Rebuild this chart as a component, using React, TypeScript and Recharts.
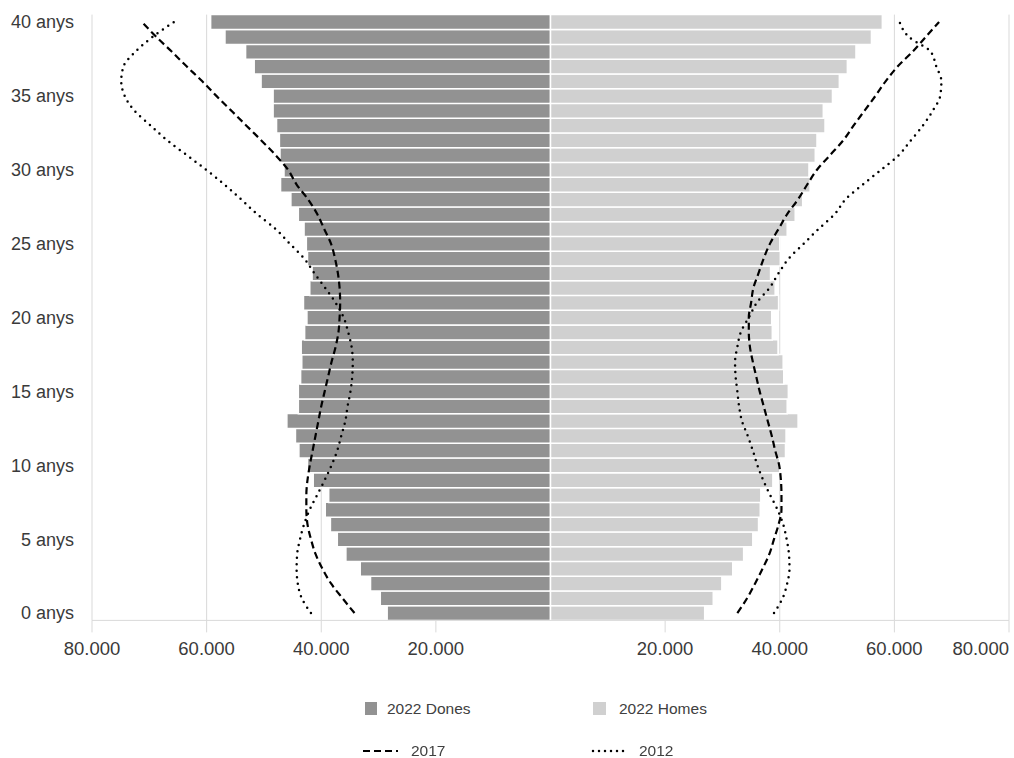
import {
  Bar,
  CartesianGrid,
  ComposedChart,
  Legend,
  Line,
  XAxis,
  YAxis,
} from 'recharts';

// edats de 0 a 40 anys
const edats = [
  0, 1, 2, 3, 4, 5, 6, 7, 8, 9, 10, 11, 12, 13, 14, 15, 16, 17, 18, 19, 20,
  21, 22, 23, 24, 25, 26, 27, 28, 29, 30, 31, 32, 33, 34, 35, 36, 37, 38, 39, 40,
];

const dones2022 = [
  28500, 29700, 31400, 33200, 35700, 37200, 38400, 39300, 38700, 41400, 42400,
  43900, 44500, 46000, 44000, 44000, 43600, 43400, 43500, 42900, 42500, 43100,
  42000, 41600, 42400, 42600, 43000, 44000, 45300, 47100, 46500, 47200, 47300,
  47800, 48400, 48400, 50500, 51700, 53200, 56800, 59300,
];

const homes2022 = [
  26900, 28400, 29900, 31800, 33700, 35300, 36300, 36600, 36700, 38800, 40000,
  41000, 41100, 43200, 41300, 41500, 40700, 40600, 39700, 38700, 38600, 39800,
  39200, 38400, 40100, 40000, 41300, 42700, 44000, 45300, 45100, 46200, 46500,
  47900, 47600, 49200, 50400, 51800, 53300, 56000, 57900,
];

const dones2017 = [
  34200, 36300, 38300, 39800, 41000, 41800, 42400, 42600, 42600, 42400, 42000,
  41500, 41000, 40500, 40000, 39400, 38800, 38200, 37500, 37000, 36800, 36700,
  36800, 37100, 37600, 38300, 39500, 40700, 42300, 44300, 45800, 48000, 50500,
  53100, 55700, 58300, 60800, 63500, 66100, 68800, 71300,
];

const homes2017 = [
  32600, 34300, 35700, 37000, 38200, 39000, 39800, 40300, 40300, 40200, 39900,
  39200, 38600, 37900, 37200, 36500, 35900, 35300, 34800, 34600, 34600, 35000,
  35400, 36300, 37200, 38300, 39800, 41300, 43200, 44800, 46500, 48800, 51100,
  52900, 54800, 56700, 58500, 60600, 63200, 65500, 67800,
];

const dones2012 = [
  41800, 43400, 44100, 44300, 44200, 43700, 43000, 42000, 40700, 39400, 38200,
  37200, 36500, 35800, 35400, 34900, 34600, 34500, 34700, 35300, 36100, 37500,
  39300, 41200, 43000, 45500, 48000, 51200, 54000, 56900, 60100, 63500, 66900,
  69800, 72600, 74300, 74900, 74500, 72400, 69400, 65700,
];

const homes2012 = [
  39000, 40500, 41300, 41700, 41600, 41200, 40600, 39600, 38300, 37100, 36100,
  35300, 34400, 33400, 32900, 32600, 32300, 32200, 32600, 33200, 34600, 36000,
  38200, 39800, 41600, 44200, 46800, 49600, 51500, 54500, 57700, 60800, 62900,
  65000, 66700, 68000, 68200, 67300, 66300, 62500, 60900,
];

const ticksX = [-80000, -60000, -40000, -20000, 20000, 40000, 60000, 80000];

const font = '"Liberation Sans", Arial, Helvetica, sans-serif';

// les dones van cap a l'esquerra (valors negatius)
const dades = edats.map((edat, i) => ({
  edat,
  dones: -dones2022[i],
  homes: homes2022[i],
  dones2017: -dones2017[i],
  homes2017: homes2017[i],
  dones2012: -dones2012[i],
  homes2012: homes2012[i],
}));

const formatMiles = (v: number) =>
  String(Math.abs(v)).replace(/\B(?=(\d{3})+(?!\d))/g, '.');

// l'ultima etiqueta queda alineada a la dreta, com a l'Excel
const TickX = ({ x, y, payload }: any) => {
  const ultim = payload.value === ticksX[ticksX.length - 1];
  return (
    <text
      x={x}
      y={y}
      dy="0.71em"
      textAnchor={ultim ? 'end' : 'middle'}
      fill="#3a3a3a"
      fontSize={18.5}
      fontFamily={font}>
      {formatMiles(payload.value)}
    </text>
  );
};

const Llegenda = () => (
  <div
    style={{
      position: 'relative',
      width: 1014,
      height: 60,
      fontFamily: font,
      fontSize: 15.5,
      lineHeight: '14px',
      color: '#404040',
    }}>
    <div style={{ position: 'absolute', left: 365, top: 4, width: 12, height: 13, background: '#929292' }} />
    <span style={{ position: 'absolute', left: 387, top: 4 }}>2022 Dones</span>
    <div style={{ position: 'absolute', left: 593, top: 4, width: 13, height: 13, background: '#d0d0d0' }} />
    <span style={{ position: 'absolute', left: 619, top: 4 }}>2022 Homes</span>
    <svg style={{ position: 'absolute', left: 362, top: 49 }} width={40} height={8}>
      <line x1={1} y1={4} x2={36} y2={4} stroke="#000" strokeWidth={2.2} strokeDasharray="7 4" />
    </svg>
    <span style={{ position: 'absolute', left: 411, top: 46 }}>2017</span>
    <svg style={{ position: 'absolute', left: 590, top: 49 }} width={40} height={8}>
      <line x1={3} y1={4} x2={34} y2={4} stroke="#000" strokeWidth={2.5} strokeLinecap="round" strokeDasharray="0 6" />
    </svg>
    <span style={{ position: 'absolute', left: 639, top: 46 }}>2012</span>
  </div>
);

export default function App() {
  return (
    <div style={{ position: 'fixed', left: 0, top: 0, width: 1014, height: 758, background: '#fff' }}>
      <ComposedChart
        width={1014}
        height={758}
        data={dades}
        layout="vertical"
        stackOffset="sign"
        barCategoryGap={0}
        margin={{ top: 14.6, right: 5, left: 0, bottom: 97.6 }}>
        <CartesianGrid horizontal={false} stroke="#d9d9d9" />
        <XAxis
          type="number"
          domain={[-80000, 80000]}
          ticks={ticksX}
          interval={0}
          height={40}
          tickSize={12}
          tickMargin={9}
          axisLine={{ stroke: '#d9d9d9' }}
          tickLine={{ stroke: '#d9d9d9' }}
          tick={<TickX />}
        />
        <YAxis
          type="category"
          dataKey="edat"
          reversed
          width={92}
          interval={4}
          axisLine={false}
          tickLine={false}
          tickMargin={12}
          tickFormatter={(v) => `${v} anys`}
          tick={{ fill: '#3a3a3a', fontSize: 18, fontFamily: font }}
        />
        <Bar dataKey="dones" stackId="p" fill="#929292" stroke="#fff" strokeWidth={1.5} isAnimationActive={false} />
        <Bar dataKey="homes" stackId="p" fill="#d0d0d0" stroke="#fff" strokeWidth={1.5} isAnimationActive={false} />
        <Line dataKey="dones2017" type="monotone" stroke="#000" strokeWidth={2.2} strokeDasharray="7 4" dot={false} activeDot={false} isAnimationActive={false} />
        <Line dataKey="homes2017" type="monotone" stroke="#000" strokeWidth={2.2} strokeDasharray="7 4" dot={false} activeDot={false} isAnimationActive={false} />
        <Line dataKey="dones2012" type="monotone" stroke="#000" strokeWidth={2.5} strokeLinecap="round" strokeDasharray="0 6.5" dot={false} activeDot={false} isAnimationActive={false} />
        <Line dataKey="homes2012" type="monotone" stroke="#000" strokeWidth={2.5} strokeLinecap="round" strokeDasharray="0 6.5" dot={false} activeDot={false} isAnimationActive={false} />
        <Legend
          verticalAlign="middle"
          align="center"
          content={() => <Llegenda />}
          wrapperStyle={{ position: 'absolute', left: 0, top: 698, width: 1014, height: 60 }}
        />
      </ComposedChart>
    </div>
  );
}
